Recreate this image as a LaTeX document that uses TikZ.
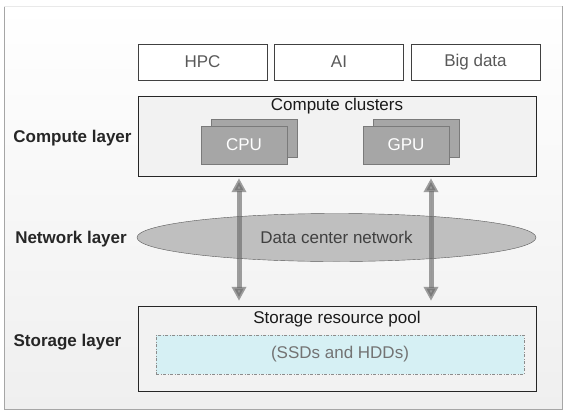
\documentclass[tikz,border=0pt]{standalone}
\usepackage{fontspec}
\setmainfont{Liberation Sans}
\usepackage{tikz}
\usetikzlibrary{positioning,shapes.geometric,arrows.meta,calc}
\definecolor{framegray}{HTML}{A6A6A6}
\definecolor{framelow}{HTML}{EFEFEF}
\definecolor{boxfill}{HTML}{F2F2F2}
\definecolor{boxline}{HTML}{404040}
\definecolor{chipfill}{HTML}{A6A6A6}
\definecolor{chipline}{HTML}{7A7A7A}
\definecolor{netfill}{HTML}{BFBFBF}
\definecolor{netline}{HTML}{595959}
\definecolor{busgray}{HTML}{676767}
\definecolor{diskfill}{HTML}{D6F0F4}
\definecolor{diskline}{HTML}{8C8C8C}
\definecolor{softtext}{HTML}{595959}

\begin{document}
\begin{tikzpicture}[x=1pt, y=-1pt, font=\fontsize{17}{20}\selectfont,
  appbox/.style={draw=boxline, fill=white, minimum width=129pt, minimum height=36pt, inner sep=0pt, text=softtext},
  panel/.style={draw=black!85, fill=boxfill, minimum width=398pt, inner sep=0pt},
  chip/.style={draw=chipline, fill=chipfill, minimum width=86pt, minimum height=38pt, inner sep=0pt, text=white},
  layer/.style={font=\fontsize{17}{20}\selectfont\bfseries, text=black!85},
  bus/.style={line width=5pt, draw=busgray, fill=busgray, opacity=0.62, {Triangle[width=14pt,length=14pt]}-{Triangle[width=14pt,length=14pt]}}]
  \useasboundingbox (0,0) rectangle (568,413);
  % frame
  \shade[top color=white, bottom color=framelow] (4,6) rectangle (562,409);
  \draw[framegray] (4,6) -- (4,409) -- (562,409) -- (562,6);
  \draw[framegray!25] (4,6) -- (562,6);

  % applications
  \foreach \name/\txt [count=\i from 0] in {hpc/HPC, ai/AI, bigdata/Big data}
    \node[appbox] (\name) at (202.5+136.5*\i,62) {\txt};

  % compute layer
  \node[panel, minimum height=80pt] (compute) at (337,136) {};
  \node[text=black!90] (clusters) at ([yshift=-10pt]compute.north) {Compute clusters};
  \foreach \name/\txt/\x in {cpu/CPU/244, gpu/GPU/406}
  {
    \node[chip] (\name back) at (\x+10,138) {};
    \node[chip] (\name) at (\x,145) {\txt};
  }

  % network layer
  \node[ellipse, draw=netline, fill=netfill, minimum width=399pt, minimum height=48pt, inner sep=0pt, text=black!75] (network) at (336.5,237.5) {Data center network};

  % storage layer
  \node[panel, minimum height=85pt] (storage) at (337,348.5) {};
  \node[text=black!90] (pool) at ([yshift=-13pt]storage.north) {Storage resource pool};
  \node[draw=diskline, dash pattern=on 3pt off 1.5pt on 1pt off 1.5pt, fill=diskfill, minimum width=368pt, minimum height=39pt, inner sep=0pt, text=black!55] (disks) at (340,354.5) {(SSDs and HDDs)};

  \draw[bus] ($(cpu.south |- compute.south)+(-5,2)$) -- ($(cpu.south |- storage.north)+(-5,-5)$);
  \draw[bus] ($(gpu.south |- compute.south)+(25,2)$) -- ($(gpu.south |- storage.north)+(25,-5)$);

  \node[layer] (computelayer) at (72.5,138) {Compute layer};
  \node[layer] (networklayer) at (71,239) {Network layer};
  \node[layer] (storagelayer) at (67.5,342) {Storage layer};
\end{tikzpicture}
\end{document}
